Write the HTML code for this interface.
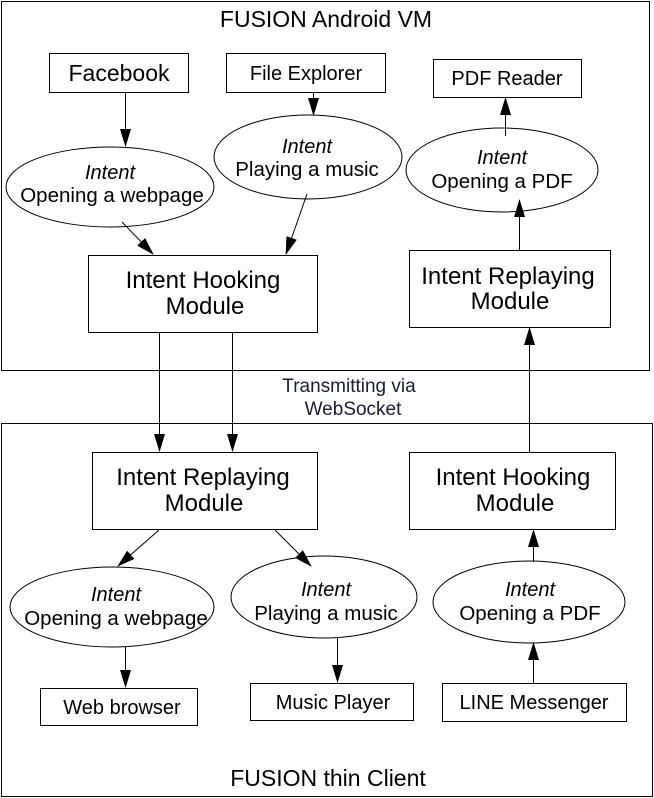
<!DOCTYPE html>
<html><head><style>body{margin:0;background:#fff}svg{display:block}text{font-family:"Liberation Sans",sans-serif;fill:#000}</style></head><body>
<svg width="654" height="798" viewBox="0 0 654 798" xmlns="http://www.w3.org/2000/svg">
<defs><marker id="a" markerWidth="18" markerHeight="12" refX="17" refY="6" orient="auto" markerUnits="userSpaceOnUse" viewBox="0 0 18 12"><path d="M0,0.5 L18,6 L0,11.5 z" fill="#000"/></marker></defs>
<g fill="none" stroke="#000" stroke-width="1">
<rect x="1.5" y="1.5" width="648" height="369"/>
<rect x="1.5" y="423.5" width="651" height="373"/>
<rect x="49.5" y="53.5" width="139" height="39"/>
<rect x="226.5" y="53.5" width="159" height="39"/>
<rect x="433.5" y="59.5" width="148" height="38"/>
<ellipse cx="110" cy="187" rx="104" ry="40"/>
<ellipse cx="308" cy="157" rx="94" ry="42"/>
<ellipse cx="502" cy="170" rx="96" ry="42"/>
<rect x="88.5" y="255.5" width="229" height="77"/>
<rect x="409.5" y="250.5" width="201" height="77"/>
<rect x="92.5" y="452.5" width="225" height="77"/>
<rect x="409.5" y="452.5" width="206" height="77"/>
<ellipse cx="112" cy="607" rx="102" ry="40"/>
<ellipse cx="324" cy="597" rx="93" ry="41"/>
<ellipse cx="529" cy="602" rx="96" ry="41"/>
<rect x="40.5" y="688.5" width="157" height="37"/>
<rect x="250.5" y="683.5" width="163" height="37"/>
<rect x="442.5" y="683.5" width="184" height="38"/>
</g>
<g stroke="#000" stroke-width="1" marker-end="url(#a)">
<line x1="125.5" y1="92" x2="125.5" y2="146"/>
<line x1="313.5" y1="92" x2="313.5" y2="115"/>
<line x1="505.5" y1="136" x2="505.5" y2="98"/>
<line x1="519.5" y1="250" x2="519.5" y2="200"/>
<line x1="122" y1="222" x2="153" y2="254"/>
<line x1="307" y1="194" x2="286" y2="254"/>
<line x1="159.5" y1="332" x2="159.5" y2="451"/>
<line x1="232.5" y1="332" x2="232.5" y2="451"/>
<line x1="529.5" y1="452" x2="529.5" y2="328"/>
<line x1="159" y1="530" x2="118" y2="566"/>
<line x1="275" y1="530" x2="311" y2="566"/>
<line x1="125.5" y1="647" x2="125.5" y2="687"/>
<line x1="337.5" y1="638" x2="337.5" y2="682"/>
<line x1="533.5" y1="683" x2="533.5" y2="643"/>
<line x1="533.5" y1="562" x2="533.5" y2="530"/>
</g>
<g text-anchor="middle">
<text x="326" y="27" font-size="23">FUSION Android VM</text>
<text x="119" y="81" font-size="23">Facebook</text>
<text x="306" y="80" font-size="20">File Explorer</text>
<text x="507" y="85" font-size="20">PDF Reader</text>
<text x="110" y="179" font-size="20" font-style="italic">Intent</text>
<text x="112" y="202" font-size="20.5">Opening a webpage</text>
<text x="307" y="153" font-size="20" font-style="italic">Intent</text>
<text x="307" y="176" font-size="20.5">Playing a music</text>
<text x="502" y="164" font-size="20" font-style="italic">Intent</text>
<text x="502" y="188" font-size="20.5">Opening a PDF</text>
<text x="203" y="288" font-size="24">Intent Hooking</text>
<text x="205" y="314" font-size="24">Module</text>
<text x="508" y="284" font-size="24">Intent Replaying</text>
<text x="510" y="309" font-size="24">Module</text>
<text x="349" y="392" font-size="19" style="fill:#1a1a3a">Transmitting via</text>
<text x="353" y="415" font-size="19" style="fill:#1a1a3a">WebSocket</text>
<text x="203" y="485" font-size="24">Intent Replaying</text>
<text x="204" y="511" font-size="24">Module</text>
<text x="513" y="485" font-size="24">Intent Hooking</text>
<text x="515" y="511" font-size="24">Module</text>
<text x="116" y="601" font-size="20" font-style="italic">Intent</text>
<text x="116" y="625" font-size="20.5">Opening a webpage</text>
<text x="326" y="596" font-size="20" font-style="italic">Intent</text>
<text x="326" y="620" font-size="20.5">Playing a music</text>
<text x="530" y="596" font-size="20" font-style="italic">Intent</text>
<text x="530" y="620" font-size="20.5">Opening a PDF</text>
<text x="122" y="714" font-size="20">Web browser</text>
<text x="333" y="709" font-size="20">Music Player</text>
<text x="534" y="709" font-size="20">LINE Messenger</text>
<text x="328" y="786" font-size="23">FUSION thin Client</text>
</g>
</svg>
</body></html>
